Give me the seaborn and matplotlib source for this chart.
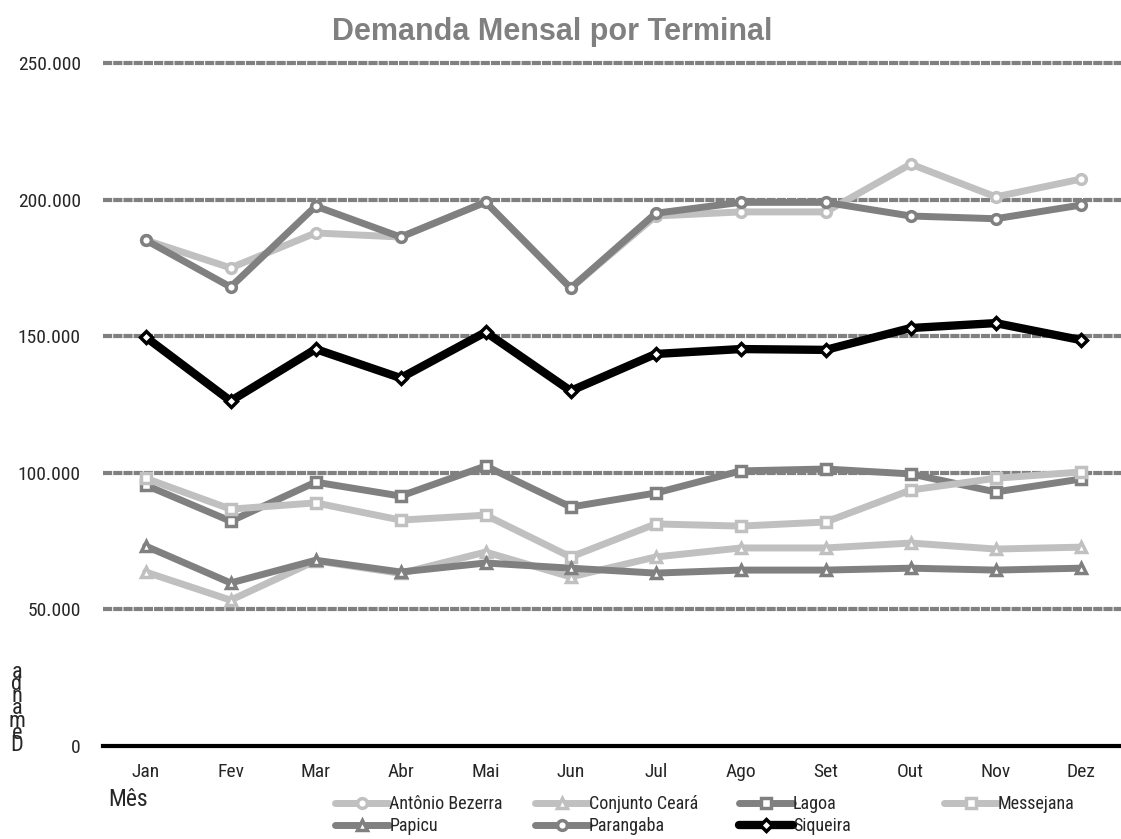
import matplotlib
matplotlib.use("Agg")
import matplotlib.pyplot as plt
from matplotlib import font_manager
from matplotlib.ticker import FuncFormatter
import numpy as np
import pandas as pd
import seaborn as sns

# dados
months = ["Jan", "Fev", "Mar", "Abr", "Mai", "Jun", "Jul", "Ago", "Set", "Out", "Nov", "Dez"]
antonio_bezerra = [185200, 175000, 187800, 186300, 199100, 167600, 194000, 195500, 195500, 213000, 201000, 207500]
conjunto_ceara = [63700, 53400, 67800, 63200, 71000, 61900, 69200, 72500, 72500, 74300, 72100, 72800]
lagoa = [95500, 82300, 96600, 91500, 102500, 87500, 92600, 100700, 101400, 99600, 93000, 97700]
messejana = [98000, 86700, 89000, 82700, 84500, 69200, 81300, 80500, 82000, 93700, 98000, 100300]
papicu = [73200, 59700, 68000, 63700, 67000, 65100, 63300, 64400, 64400, 65100, 64400, 65100]
parangaba = [185200, 168000, 197600, 186300, 199100, 167600, 195000, 199000, 199000, 194000, 193000, 198000]
siqueira = [149700, 126300, 145300, 134700, 151500, 130000, 143500, 145300, 145000, 153000, 154800, 148600]

series = [
    ("Antônio Bezerra", antonio_bezerra, "#C0C0C0", "o"),
    ("Conjunto Ceará", conjunto_ceara, "#C0C0C0", "^"),
    ("Lagoa", lagoa, "#808080", "s"),
    ("Messejana", messejana, "#C0C0C0", "s"),
    ("Papicu", papicu, "#808080", "^"),
    ("Parangaba", parangaba, "#808080", "o"),
    ("Siqueira", siqueira, "#000000", "D"),
]
yticks = [0, 50000, 100000, 150000, 200000, 250000]

# fonte estreita, tipo Arial Narrow
narrow = "DejaVu Sans"
for name in ["Liberation Sans Narrow", "Roboto Condensed", "Open Sans Condensed"]:
    try:
        font_manager.findfont(name, fallback_to_default=False)
        narrow = name
        break
    except Exception:
        pass

sns.set_style("white")
plt.rcParams["font.family"] = [narrow, "DejaVu Sans"]

fig = plt.figure(figsize=(11.21, 8.39), dpi=100)
ax = fig.add_axes([0.092, 0.1108, 0.91, 0.8141])

# linhas de grade tracejadas
for yv in yticks[1:]:
    ax.axhline(yv, color="#808080", linewidth=3.0, linestyle=(0, (2.2, 0.25)), zorder=1,
               clip_on=False)

for name, vals, color, mk in series:
    df = pd.DataFrame({"mes": months, "valor": vals})
    lw = 6.0 if color == "#000000" else 5.0
    sns.lineplot(data=df, x="mes", y="valor", sort=False, ax=ax, color=color, linewidth=lw,
                 marker=mk, markersize=7 if mk != "D" else 6.5, markerfacecolor="white",
                 markeredgecolor=color, markeredgewidth=2.5, label=name, zorder=3)

ax.set_xlim(-0.5, 11.5)
ax.set_ylim(0, 250000)
ax.set_yticks(yticks)
ax.yaxis.set_major_formatter(FuncFormatter(lambda v, p: f"{int(v):,}".replace(",", ".")))
ax.grid(False)

for s in ["left", "right", "top"]:
    ax.spines[s].set_visible(False)
ax.spines["bottom"].set_color("black")
ax.spines["bottom"].set_linewidth(3)
ax.spines["bottom"].set_zorder(4)

ax.set_xticks(np.arange(12))
ax.set_xticks(np.arange(-0.5, 12, 1), minor=True)
ax.tick_params(axis="x", which="major", length=0, pad=12, labelsize=14)
ax.tick_params(axis="x", which="minor", length=4, width=3, color="black", direction="out")
ax.tick_params(axis="y", length=0, pad=16, labelsize=14)

ax.set_xlabel("")
ax.set_ylabel("")
fig.text(0.097, 0.047, "Mês", fontsize=17, va="center", ha="left")
fig.text(0.015, 0.155, "a\nd\nn\na\nm\ne\nD", fontsize=16, va="center", ha="center",
         linespacing=0.45)

fig.text(0.493, 0.962, "Demanda Mensal por Terminal", fontsize=22, fontweight="bold",
         color="#808080", ha="center", va="center", family=["Liberation Sans", "DejaVu Sans"])

# legenda em 4 colunas com passo fixo
handles, labels = ax.get_legend_handles_labels()
ax.get_legend().remove()
columns = [[0, 4], [1, 5], [2, 6], [3]]
col_x = [0.299, 0.477, 0.659, 0.842]
for cx, idx in zip(col_x, columns):
    leg = fig.legend([handles[i] for i in idx], [labels[i] for i in idx],
                     loc="upper left", bbox_to_anchor=(cx, 0.052), frameon=False,
                     fontsize=13, handlelength=3.0, handletextpad=0.0, labelspacing=0.22,
                     borderpad=0.0, borderaxespad=0.0)

fig.savefig("out.png", dpi=100)
